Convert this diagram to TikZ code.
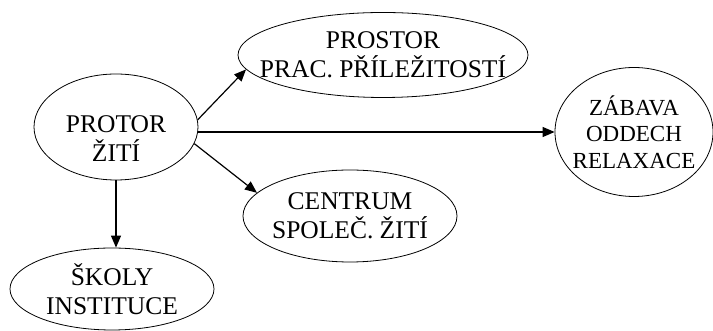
\documentclass[tikz,border=0pt]{standalone}
\usepackage{fontspec}
\setmainfont{Liberation Serif}
\usepackage{tikz}
\usetikzlibrary{arrows.meta,shapes.geometric}
\tikzstyle{bublina}=[ellipse, draw=black, line width=0.8pt, inner sep=0pt]
\tikzstyle{popis}=[align=center, font=\fontsize{25.5}{29}\selectfont]
\tikzstyle{sipka}=[line width=1.2pt, -{Triangle[length=12pt,width=10pt]}]

\begin{document}
\begin{tikzpicture}[x=1pt,y=1pt]
			\useasboundingbox (0,0) rectangle (713,331);
			\node[bublina, minimum width=164pt, minimum height=106pt, label={[popis, yshift=-12pt]center:PROTOR\\ŽITÍ}] (protor) at (116,204) {};
			\node[bublina, minimum width=290pt, minimum height=85pt, label={[popis]center:PROSTOR\\PRAC. PŘÍLEŽITOSTÍ}] (prostor) at (383,276) {};
			\node[bublina, minimum width=214pt, minimum height=92pt, label={[popis]center:CENTRUM\\SPOLEČ. ŽITÍ}] (centrum) at (350,115) {};
			\node[bublina, minimum width=158pt, minimum height=129pt, label={[popis, font=\fontsize{23}{26.5}\selectfont]center:ZÁBAVA\\ODDECH\\RELAXACE}] (zabava) at (634,199) {};
			\node[bublina, minimum width=204pt, minimum height=82pt, label={[popis]center:ŠKOLY\\INSTITUCE}] (skoly) at (112,42) {};
			\draw[sipka] (protor.5)--(prostor.186);
			\draw[sipka] (protor.east |- zabava.west)--(zabava.west);
			\draw[sipka] (protor.-12)--(centrum.166);
			\draw[sipka] (protor.south)--(protor.south |- skoly.north);
		\end{tikzpicture}
\end{document}
